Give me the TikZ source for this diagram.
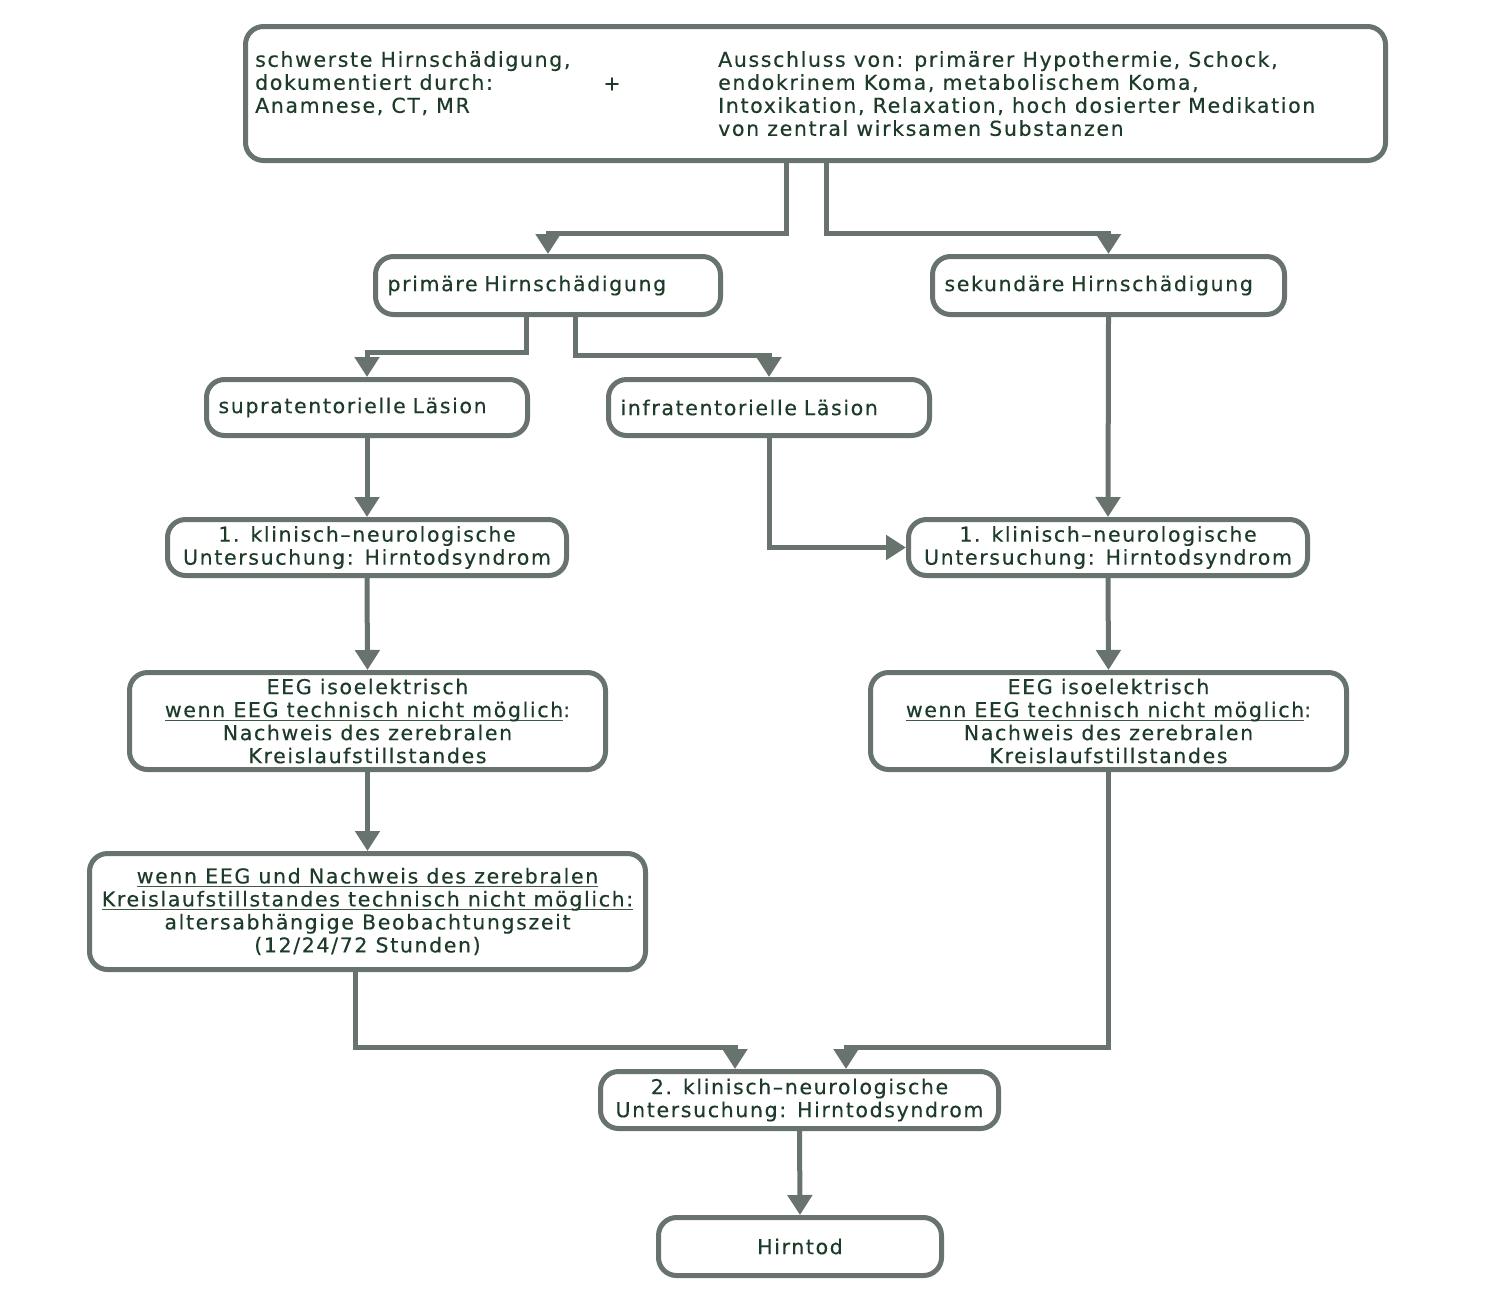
\documentclass[tikz,border=0pt]{standalone}
\usepackage{fontspec}
\setmainfont{DejaVu Sans}[LetterSpace=8,FakeBold=0.3]
\usetikzlibrary{arrows.meta}
\definecolor{lc}{HTML}{69736E}
\definecolor{tc}{HTML}{1D3B29}
\newcommand{\ulx}[1]{\setbox0\hbox{#1}\rlap{\color{tc!85}\rule[-4pt]{\wd0}{1.6pt}}\box0}
\tikzset{
  box/.style={draw=lc, line width=5pt, rounded corners=18pt, fill=white, text=tc,
    font=\fontsize{20.5}{23}\selectfont, inner sep=0pt, align=center},
  lbox/.style={box, align=left, inner xsep=12pt},
  txt/.style={text=tc, font=\fontsize{20.5}{23}\selectfont, inner sep=0pt, align=left},
  arr/.style={draw=lc, line width=5pt, -{Triangle[width=24pt,length=20pt]}},
}
\begin{document}
\begin{tikzpicture}[x=1pt,y=-1pt]
\useasboundingbox (0,0) rectangle (1490,1302);
% boxes
\node[box, minimum width=1140pt, minimum height=134pt] (top) at (815.5,93.5) {};
\node[txt, anchor=north west] (topL) at (255,51) {schwerste Hirnschädigung,\\dokumentiert durch:\\Anamnese, CT, MR};
\node[txt, anchor=center] (plus) at (612,84) {+};
\node[txt, anchor=north west] (topR) at (718,51) {Ausschluss von: primärer Hypothermie, Schock,\\endokrinem Koma, metabolischem Koma,\\Intoxikation, Relaxation, hoch dosierter Medikation\\von zentral wirksamen Substanzen};

\node[lbox, minimum width=345pt, minimum height=58pt, text width=321pt] (prim) at (548,285.5) {primäre Hirnschädigung};
\node[lbox, minimum width=352pt, minimum height=58pt, text width=328pt] (sek) at (1108.5,285.5) {sekundäre Hirnschädigung};
\node[lbox, minimum width=321pt, minimum height=56pt, text width=297pt] (supra) at (367,407.5) {supratentorielle Läsion};
\node[lbox, minimum width=321pt, minimum height=56pt, text width=297pt] (infra) at (769,407.5) {infratentorielle Läsion};

\node[box, minimum width=399pt, minimum height=56pt] (k1L) at (367,547.5) {1. klinisch--neurologische\\Untersuchung: Hirntodsyndrom};
\node[box, minimum width=399pt, minimum height=56pt] (k1R) at (1108,547.5) {1. klinisch--neurologische\\Untersuchung: Hirntodsyndrom};

\node[box, minimum width=476pt, minimum height=97pt] (eegL) at (367.5,721) {EEG isoelektrisch\\\ulx{wenn EEG technisch nicht möglich}:\\Nachweis des zerebralen\\Kreislaufstillstandes};
\node[box, minimum width=476pt, minimum height=97pt] (eegR) at (1108.5,721) {EEG isoelektrisch\\\ulx{wenn EEG technisch nicht möglich}:\\Nachweis des zerebralen\\Kreislaufstillstandes};

\node[box, minimum width=556pt, minimum height=116pt] (wenn) at (367.5,911.5) {\ulx{wenn EEG und Nachweis des zerebralen}\\\ulx{Kreislaufstillstandes technisch nicht möglich:}\\altersabhängige Beobachtungszeit\\(12/24/72 Stunden)};

\node[box, minimum width=398pt, minimum height=57pt] (k2) at (799.5,1100) {2. klinisch--neurologische\\Untersuchung: Hirntodsyndrom};
\node[box, minimum width=283pt, minimum height=58pt] (tod) at (800,1246.5) {Hirntod};

% connectors
\draw[arr] ([xshift=-29.5pt]top.south) -- ++(0,70) -| (prim.north);
\draw[arr] ([xshift=10.5pt]top.south) -- ++(0,70) -| (sek.north);
\draw[arr] ([xshift=-22pt]prim.south) -- ++(0,35) -| (supra.north);
\draw[arr] ([xshift=27pt]prim.south) -- ++(0,38) -| (infra.north);
\draw[arr] (supra.south) -- (k1L.north);
\draw[arr] (infra.south) |- (k1R.west);
\draw[arr] (sek.south) -- (k1R.north);
\draw[arr] (k1L.south) -- (eegL.north);
\draw[arr] (k1R.south) -- (eegR.north);
\draw[arr] (eegL.south) -- (wenn.north);
\draw[arr] ([xshift=-12.5pt]wenn.south) -- ++(0,75) -| ([xshift=-64.5pt]k2.north);
\draw[arr] (eegR.south) -- ++(0,275) -| ([xshift=46.5pt]k2.north);
\draw[arr] (k2.south) -- (tod.north);
\end{tikzpicture}
\end{document}
